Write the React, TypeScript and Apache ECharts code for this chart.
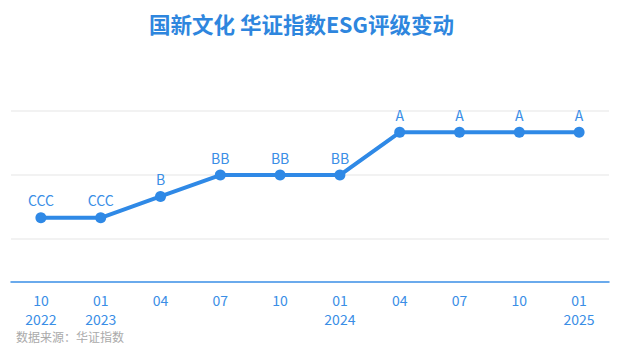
import React, { useEffect, useRef } from "react";
import * as echarts from "echarts";

const categories = ["10\n2022", "01\n2023", "04", "07", "10", "01\n2024", "04", "07", "10", "01\n2025"];
const ratings = ["CCC", "CCC", "B", "BB", "BB", "BB", "A", "A", "A", "A"];
const ratingScale = ["", "C", "CC", "CCC", "B", "BB", "BBB", "A", "AA", "AAA"];
const gridValues = [2, 5, 8];
const titleText = "国新文化 华证指数ESG评级变动";
const sourceText = "数据来源：华证指数";

const FONT = "'Noto Sans CJK SC', 'Noto Sans', sans-serif";

export default function App() {
  const ref = useRef<HTMLDivElement>(null);
  useEffect(() => {
    if (!ref.current) return;
    const chart = echarts.init(ref.current, undefined, { renderer: "svg" });
    const values = ratings.map((r) => ratingScale.indexOf(r));
    chart.setOption({
      animation: false,
      backgroundColor: "#ffffff",
      textStyle: { fontFamily: FONT },
      title: {
        text: titleText,
        left: 144,
        top: 8,
        textStyle: { fontSize: 21.5, fontWeight: "bold", color: "#2e86de", fontFamily: FONT },
      },
      graphic: [
        {
          type: "text",
          left: 16,
          top: 330,
          style: { text: sourceText, fontSize: 12, fill: "#aaaaaa", fontFamily: FONT },
        },
      ],
      grid: { left: 11, right: 9, top: 89.5, bottom: 73 },
      xAxis: {
        type: "category",
        data: categories,
        boundaryGap: true,
        axisLine: { lineStyle: { color: "#3a8ee6", width: 1.5 } },
        axisTick: { alignWithLabel: true, length: 5, lineStyle: { color: "#3a8ee6" } },
        axisLabel: { color: "#3a8ee6", fontSize: 14, lineHeight: 19, margin: 8, fontFamily: FONT },
      },
      yAxis: {
        type: "value",
        min: 0,
        max: 9,
        show: true,
        axisLine: { show: false },
        axisTick: { show: false },
        axisLabel: { show: false },
        splitLine: { show: false },
      },
      series: [
        {
          type: "line",
          data: [],
          z: 0,
          silent: true,
          markLine: {
            z: 0,
            silent: true,
            symbol: "none",
            label: { show: false },
            lineStyle: { color: "#f2f2f2", type: "solid", width: 2 },
            data: gridValues.map((v) => ({ yAxis: v })),
          },
        },
        {
          type: "line",
          z: 3,
          data: values,
          symbol: "circle",
          symbolSize: 11,
          lineStyle: { color: "#2f89e6", width: 4 },
          itemStyle: { color: "#2f89e6" },
          label: {
            show: true,
            position: "top",
            distance: 5,
            color: "#3a8ee6",
            fontSize: 14,
            fontFamily: FONT,
            formatter: (p: any) => ratings[p.dataIndex],
          },
        },
      ],
    });
    return () => chart.dispose();
  }, []);
  return <div ref={ref} style={{ position: "fixed", left: 0, top: 0, width: 618, height: 355 }} />;
}
